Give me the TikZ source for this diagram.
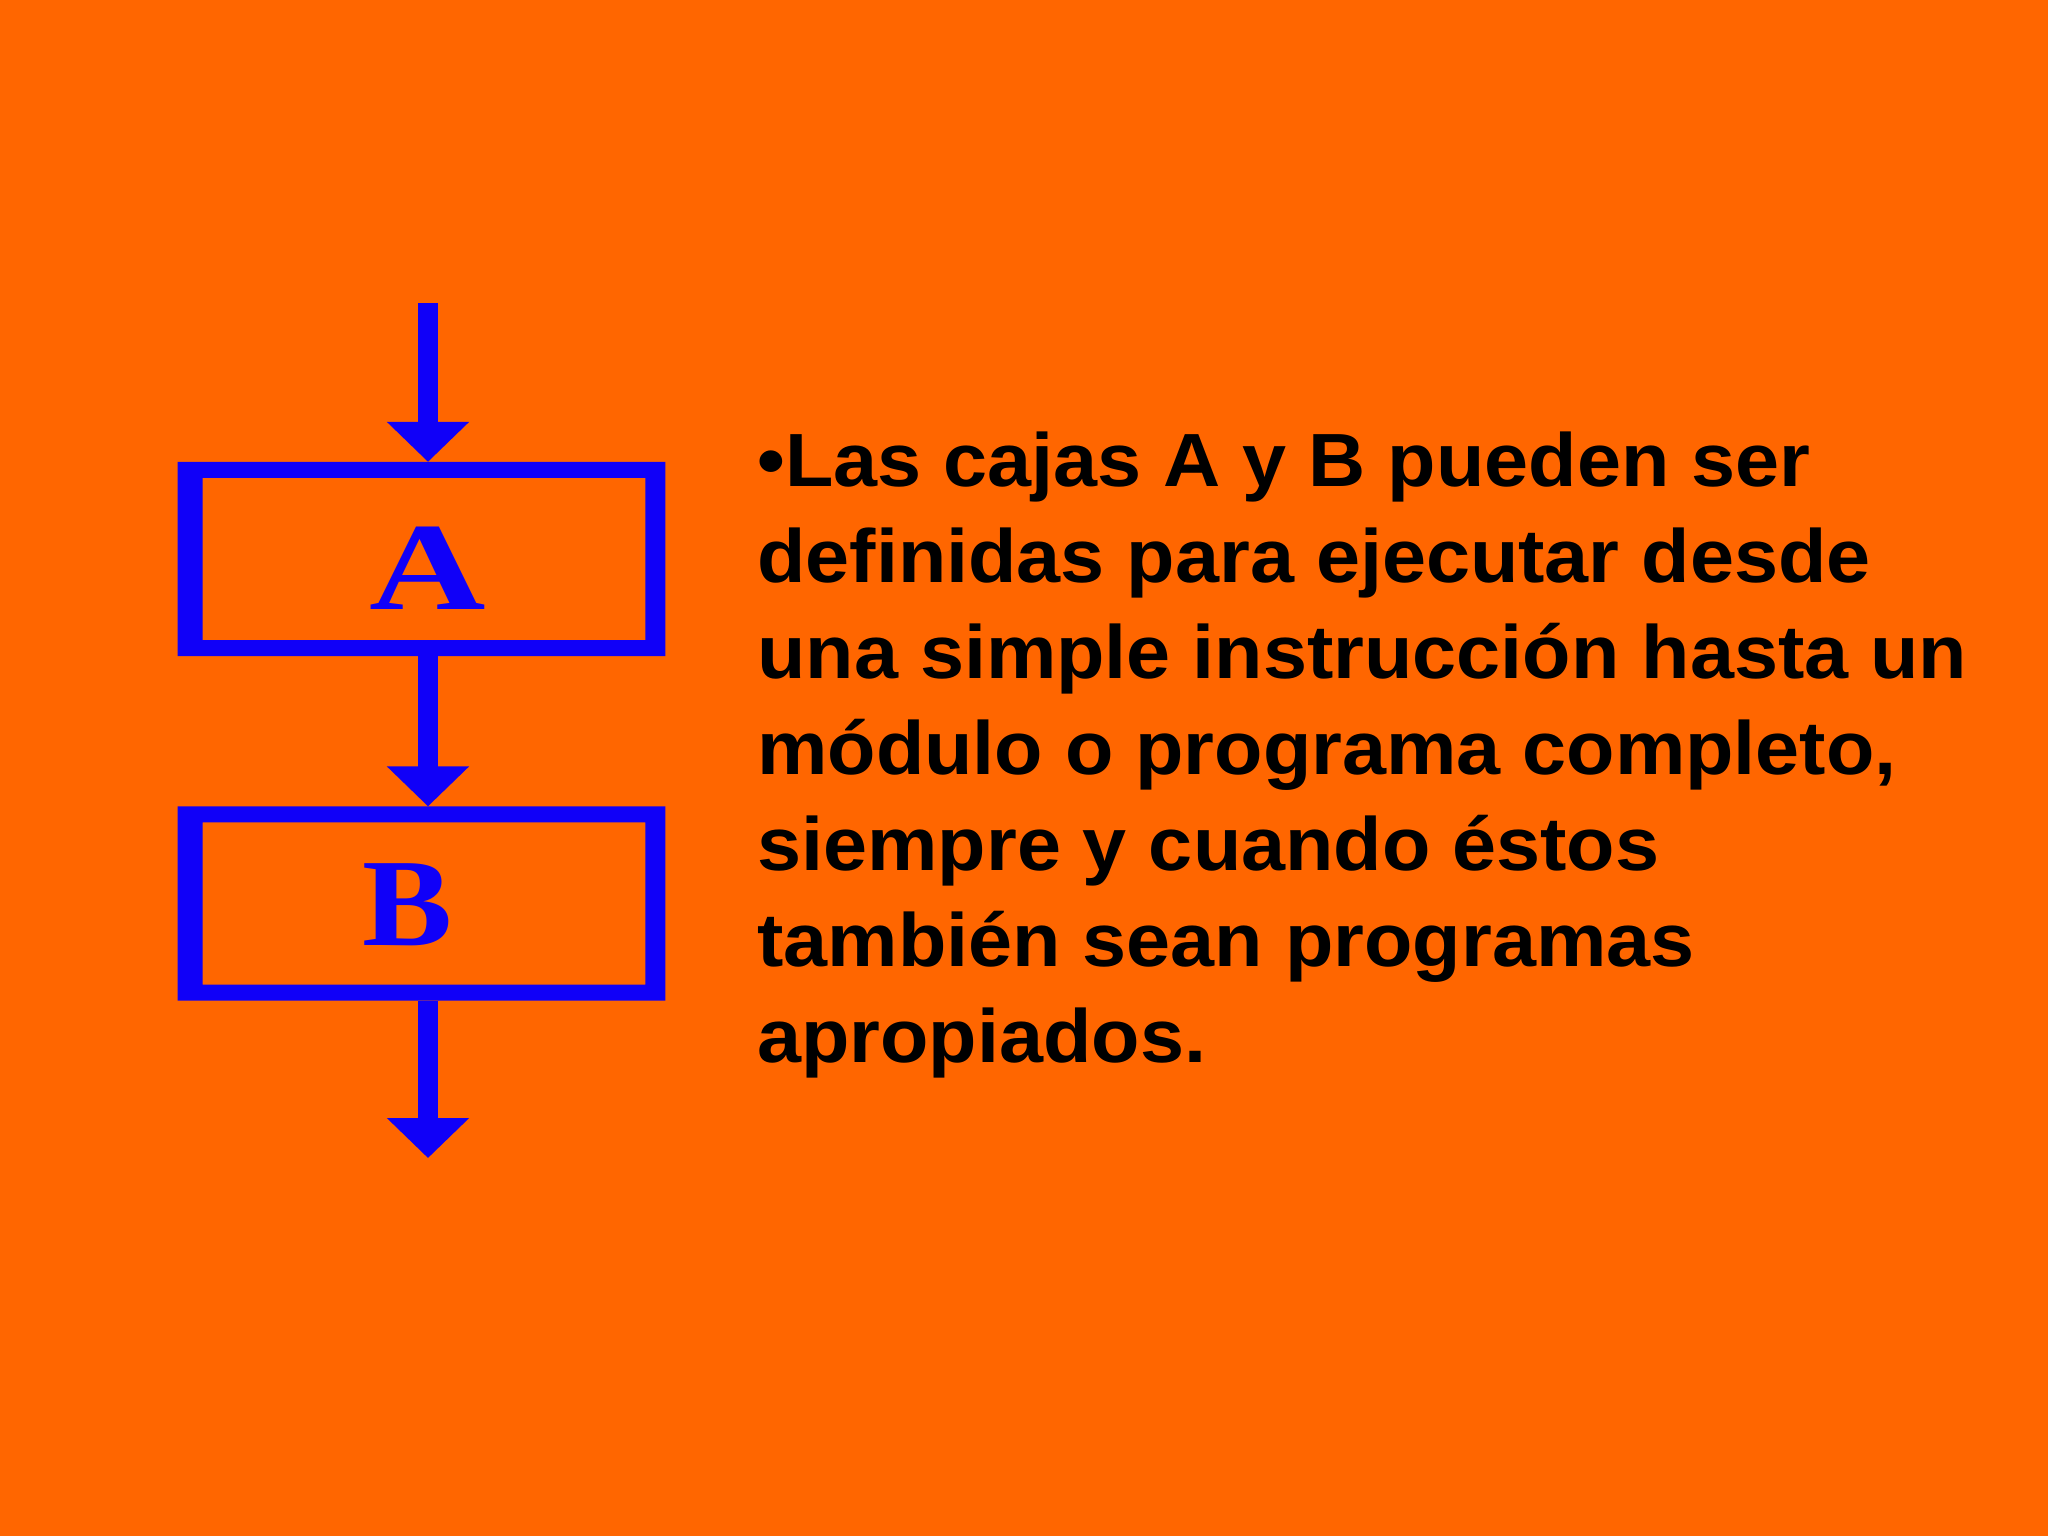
\documentclass[tikz,border=0pt]{standalone}
\usepackage{fontspec}
\usepackage{graphicx}
\setmainfont{Liberation Sans}
\newfontfamily\widesans[FakeStretch=1.05]{Liberation Sans}
\newfontfamily\serifbold{Liberation Serif}
\usetikzlibrary{arrows.meta}
\definecolor{bgorange}{HTML}{FF6600}
\definecolor{flowblue}{HTML}{1000F8}
\tikzset{
  flow/.style={draw=flowblue, line width=10pt, -{Triangle[width=40pt,length=20pt]}},
  boxframe/.style={draw=none, minimum width=243.5pt, minimum height=96.75pt, inner sep=0pt},
  letter/.style={text=flowblue, font=\serifbold\bfseries\fontsize{62.5}{70}\selectfont, inner sep=0pt},
  txt/.style={anchor=base west, inner sep=0pt, font=\widesans\bfseries\fontsize{37.7}{48}\selectfont, text=black}
}
\begin{document}
\begin{tikzpicture}[x=0.5pt,y=-0.5pt]
\fill[bgorange] (0,0) rectangle (2048,1536);
\useasboundingbox (0,0) rectangle (2048,1536);
% boxes
\node[boxframe] (boxA) at (421.5,559) {};
\node[boxframe] (boxB) at (421.5,903.5) {};
\fill[flowblue, even odd rule] (boxA.north west) rectangle (boxA.south east)
  ([shift={(25,16)}]boxA.north west) rectangle ([shift={(-20,-16)}]boxA.south east);
\fill[flowblue, even odd rule] (boxB.north west) rectangle (boxB.south east)
  ([shift={(25,16)}]boxB.north west) rectangle ([shift={(-20,-16)}]boxB.south east);
\node[letter] (labA) at (428,568) {\scalebox{1.29}[1]{A}};
\node[letter] (labB) at (408,905) {\scalebox{1.08}[1]{B}};
% connectors
\coordinate (top) at (428,303);
\coordinate (bot) at (428,1158);
\draw[flow] (top) -- (top |- boxA.north);
\draw[flow] (boxA.south -| top) -- (boxB.north -| top);
\draw[flow] (boxB.south -| top) -- (bot);
% text
\node[txt] (l1) at (757,486) {•Las cajas A y B pueden ser};
\node[txt] (l2) at (757,582) {definidas para ejecutar desde};
\node[txt] (l3) at (757,678) {una simple instrucción hasta un};
\node[txt] (l4) at (757,774) {módulo o programa completo,};
\node[txt] (l5) at (757,870) {siempre y cuando éstos};
\node[txt] (l6) at (757,966) {también sean programas};
\node[txt] (l7) at (757,1062) {apropiados.};
\end{tikzpicture}
\end{document}
